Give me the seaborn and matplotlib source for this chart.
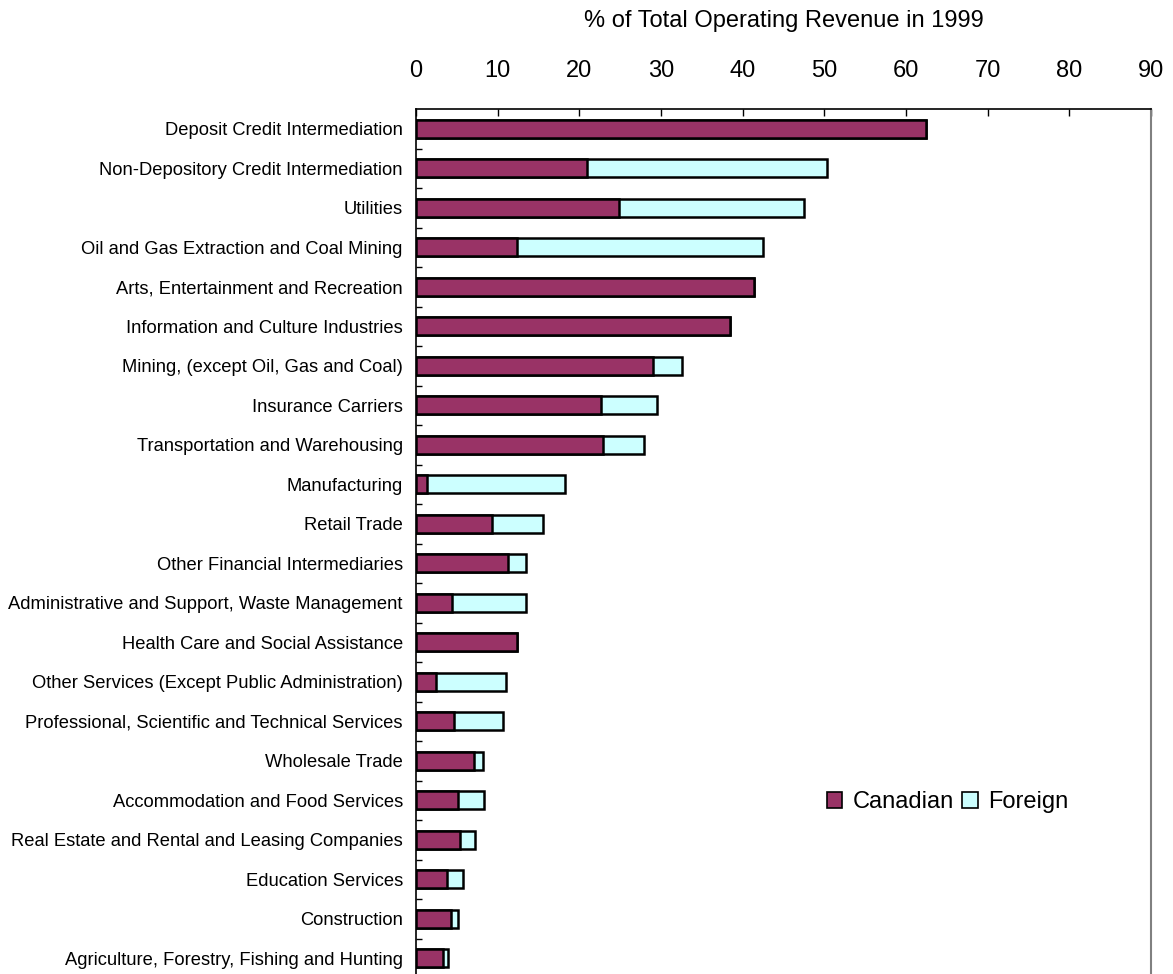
import numpy as np
import pandas as pd
import matplotlib
matplotlib.use("Agg")
import matplotlib.pyplot as plt
import seaborn as sns
from matplotlib.patches import Patch
from matplotlib.ticker import FixedLocator

# Share of total operating revenue in 1999, by industry (percent)
industries = [
    "Deposit Credit Intermediation",
    "Non-Depository Credit Intermediation",
    "Utilities",
    "Oil and Gas Extraction and Coal Mining",
    "Arts, Entertainment and Recreation",
    "Information and Culture Industries",
    "Mining, (except Oil, Gas and Coal)",
    "Insurance Carriers",
    "Transportation and Warehousing",
    "Manufacturing",
    "Retail Trade",
    "Other Financial Intermediaries",
    "Administrative and Support, Waste Management",
    "Health Care and Social Assistance",
    "Other Services (Except Public Administration)",
    "Professional, Scientific and Technical Services",
    "Wholesale Trade",
    "Accommodation and Food Services",
    "Real Estate and Rental and Leasing Companies",
    "Education Services",
    "Construction",
    "Agriculture, Forestry, Fishing and Hunting",
]
canadian = [62.5, 20.9, 24.9, 12.4, 41.4, 38.4, 29.0, 22.6, 22.9, 1.3, 9.35,
            11.3, 4.4, 12.4, 2.45, 4.65, 7.1, 5.2, 5.4, 3.8, 4.3, 3.3]
foreign = [0.0, 29.4, 22.6, 30.15, 0.0, 0.0, 3.6, 6.9, 5.0, 16.9, 6.15,
           2.2, 9.1, 0.0, 8.55, 6.05, 1.15, 3.1, 1.8, 1.95, 0.9, 0.6]
x_ticks = [0, 10, 20, 30, 40, 50, 60, 70, 80, 90]

CANADIAN_COLOR = "#993366"
FOREIGN_COLOR = "#CCFFFF"

df = pd.DataFrame({"industry": industries, "canadian": canadian, "foreign": foreign})
df["total"] = df["canadian"] + df["foreign"]

sns.set_theme(style="white")
plt.rcParams["font.family"] = ["Liberation Sans", "DejaVu Sans"]
plt.rcParams.update({"text.color": "black", "axes.labelcolor": "black",
                     "xtick.color": "black", "ytick.color": "black"})

fig = plt.figure(figsize=(11.73, 9.74), dpi=100)
ax = fig.add_axes([416 / 1173, -4 / 974, (1151 - 416) / 1173, (978 - 109) / 974])

bar_kw = dict(orient="h", width=0.46, edgecolor="black", linewidth=1.8,
              saturation=1, ax=ax)
# Foreign share stacked after Canadian: draw the total first, then Canadian over it
sns.barplot(data=df, x="total", y="industry", color=FOREIGN_COLOR, **bar_kw)
sns.barplot(data=df, x="canadian", y="industry", color=CANADIAN_COLOR, **bar_kw)

ax.set_xlim(0, 90)
ax.set_ylim(len(industries) - 0.5, -0.5)
ax.set_xticks(x_ticks)
ax.xaxis.tick_top()
ax.xaxis.set_label_position("top")
ax.set_xlabel("% of Total Operating Revenue in 1999", fontsize=17, labelpad=24)
ax.set_ylabel("")
ax.tick_params(axis="x", direction="in", length=5, width=1, pad=19.5,
               labelsize=17, colors="black", top=True, bottom=False)
ax.tick_params(axis="y", which="major", length=0, pad=9.5, labelsize=13.2,
               labelcolor="black")
ax.yaxis.set_minor_locator(FixedLocator(np.arange(0.5, len(industries) - 1, 1.0)))
ax.tick_params(axis="y", which="minor", direction="in", length=4, width=1,
               left=True, color="black")

for side in ("left", "top"):
    ax.spines[side].set_color("black")
    ax.spines[side].set_linewidth(1.2)
ax.spines["right"].set_color("#808080")
ax.spines["right"].set_linewidth(1.5)
ax.spines["bottom"].set_visible(False)
ax.grid(False)

handles = [
    Patch(facecolor=CANADIAN_COLOR, edgecolor="black", linewidth=1.2, label="Canadian"),
    Patch(facecolor=FOREIGN_COLOR, edgecolor="black", linewidth=1.2, label="Foreign"),
]
fig.legend(handles=handles, loc="center left", bbox_to_anchor=(827 / 1173, 1 - 802 / 974),
           ncol=2, frameon=False, fontsize=17, handlelength=0.65, handleheight=0.65,
           handletextpad=0.45, columnspacing=0.35, borderpad=0, borderaxespad=0)

fig.savefig("out.png", dpi=100)
